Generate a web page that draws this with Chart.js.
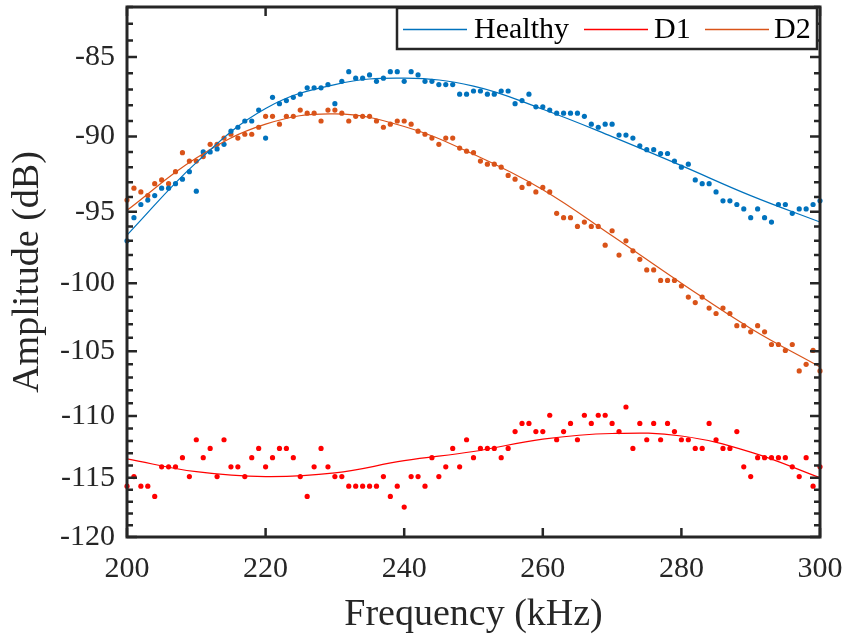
<!DOCTYPE html>
<html>
<head>
<meta charset="utf-8">
<script src="https://cdn.jsdelivr.net/npm/chart.js@4.4.0/dist/chart.umd.min.js"></script>
<style>
  html, body { margin: 0; padding: 0; background: #fff; }
  #wrap { width: 849px; height: 641px; }
</style>
</head>
<body>
<div id="wrap"><canvas id="ampChart" width="849" height="641"></canvas></div>
<script>
const freq = [200, 201, 202, 203, 204, 205, 206, 207, 208, 209,
  210, 211, 212, 213, 214, 215, 216, 217, 218, 219,
  220, 221, 222, 223, 224, 225, 226, 227, 228, 229,
  230, 231, 232, 233, 234, 235, 236, 237, 238, 239,
  240, 241, 242, 243, 244, 245, 246, 247, 248, 249,
  250, 251, 252, 253, 254, 255, 256, 257, 258, 259,
  260, 261, 262, 263, 264, 265, 266, 267, 268, 269,
  270, 271, 272, 273, 274, 275, 276, 277, 278, 279,
  280, 281, 282, 283, 284, 285, 286, 287, 288, 289,
  290, 291, 292, 293, 294, 295, 296, 297, 298, 299, 300];

// measured amplitudes (dB)
const healthy = [-97.0, -95.4, -94.5, -94.2, -93.9, -93.4, -93.4, -93.1, -92.8, -92.3,
  -93.6, -91.0, -91.0, -90.8, -90.5, -89.65, -89.4, -89.0, -89.0, -88.3,
  -90.1, -87.5, -87.9, -87.7, -87.5, -87.3, -86.9, -86.9, -86.9, -86.7,
  -87.9, -86.5, -85.9, -86.3, -86.3, -86.1, -86.5, -86.3, -85.9, -85.9,
  -86.5, -85.9, -86.1, -86.5, -86.5, -86.7, -86.7, -86.7, -87.3, -87.3,
  -87.1, -87.1, -87.3, -87.3, -87.1, -87.1, -87.9, -87.7, -87.3, -88.1,
  -88.1, -88.3, -88.5, -88.5, -88.5, -88.5, -88.7, -89.2, -89.4, -89.2,
  -89.2, -89.9, -89.9, -90.1, -90.6, -90.85, -90.85, -91.1, -91.1, -91.6,
  -92.0, -91.8, -92.85, -93.1, -93.1, -93.65, -94.25, -94.25, -94.5, -94.8,
  -95.4, -94.8, -95.4, -95.7, -94.5, -94.5, -95.1, -94.8, -94.8, -94.5, -94.25];

const d1 = [-115.7, -114.9, -115.7, -115.7, -116.55, -114.1, -114.1, -114.1, -113.35, -114.9,
  -111.9, -113.35, -112.6, -114.9, -111.9, -114.1, -114.1, -114.9, -113.35, -112.6,
  -114.1, -113.35, -112.6, -112.6, -113.35, -114.9, -116.55, -114.1, -112.6, -114.1,
  -114.9, -114.9, -115.7, -115.7, -115.7, -115.7, -115.7, -114.9, -116.55, -115.7,
  -117.45, -114.9, -114.9, -115.7, -113.35, -114.9, -114.1, -112.6, -114.1, -111.9,
  -113.35, -112.6, -112.6, -112.6, -113.35, -112.6, -111.25, -110.6, -110.6, -111.25,
  -111.25, -109.95, -111.9, -111.25, -110.6, -111.9, -109.95, -110.6, -109.95, -109.95,
  -110.6, -111.25, -109.3, -112.6, -110.6, -111.9, -110.6, -111.9, -110.6, -111.25,
  -111.9, -111.9, -112.6, -112.6, -110.6, -111.9, -112.6, -112.6, -111.25, -114.1,
  -114.9, -113.35, -113.35, -113.35, -113.35, -113.35, -114.1, -114.9, -113.35, -115.7, -114.1];

const d2 = [-94.2, -93.4, -93.65, -93.9, -93.1, -92.85, -93.1, -92.3, -91.05, -91.6,
  -91.6, -91.3, -90.5, -90.5, -90.1, -89.85, -90.1, -89.85, -89.85, -89.4,
  -88.7, -88.7, -89.2, -88.7, -88.7, -88.3, -88.5, -88.5, -89.0, -88.3,
  -88.3, -88.5, -89.0, -88.7, -88.7, -88.7, -89.0, -89.4, -89.2, -89.0,
  -89.0, -89.2, -89.65, -89.85, -90.1, -90.5, -90.1, -90.1, -90.75, -90.95,
  -91.05, -91.6, -91.8, -91.8, -92.0, -92.55, -92.8, -93.35, -93.1, -93.65,
  -93.35, -93.65, -95.1, -95.4, -95.4, -96.0, -95.7, -96.0, -96.0, -97.3,
  -96.3, -98.0, -97.0, -97.7, -98.3, -99.05, -99.05, -99.8, -99.8, -99.8,
  -100.2, -101.0, -101.4, -101.0, -101.8, -102.2, -101.8, -102.2, -103.1, -103.1,
  -103.55, -103.1, -103.55, -104.5, -104.5, -104.95, -104.5, -106.5, -106.0, -104.95, -106.5];

// fitted curves, read every 10 kHz
const fitFreq = [200, 210, 220, 230, 240, 250, 260, 270, 280, 290, 300];
const healthyFit = [-96.6, -91.7, -88.2, -86.7, -86.3, -86.8, -88.25, -90.0, -91.9, -93.9, -95.7];
const d1Fit = [-113.45, -114.5, -114.9, -114.6, -113.6, -112.85, -111.85, -111.4, -111.6, -112.9, -115.0];
const d2Fit = [-94.9, -91.4, -89.2, -88.55, -89.35, -91.15, -93.5, -96.65, -100.0, -103.3, -106.2];

const xTicks = [200, 220, 240, 260, 280, 300];
const yTicks = [-120, -115, -110, -105, -100, -95, -90, -85];
const yMinor = [-120, -119, -118, -117, -116, -115, -114, -113, -112, -111,
  -110, -109, -108, -107, -106, -105, -104, -103, -102, -101,
  -100, -99, -98, -97, -96, -95, -94, -93, -92, -91,
  -90, -89, -88, -87, -86, -85, -84, -83, -82];

const seriesNames = ['Healthy', 'D1', 'D2'];
const seriesColors = ['#0072BD', '#FF0000', '#D95319'];

const axisColor = '#262626';
const serif = 'Liberation Serif, Times New Roman, serif';

// log axis on the magnitude, values shown negative
function toPoints(xs, ys) {
    return xs.map((x, i) => ({ x: x, y: -ys[i] }));
}

function dotSet(label, ys, color) {
    return {
        label: label,
        data: toPoints(freq, ys),
        showLine: false,
        pointRadius: 2.6,
        pointHoverRadius: 2.6,
        pointBackgroundColor: color,
        pointBorderWidth: 0,
        borderColor: color,
        clip: false
    };
}

function fitSet(label, ys, color) {
    return {
        label: label,
        data: toPoints(fitFreq, ys),
        showLine: true,
        borderColor: color,
        borderWidth: 1.2,
        pointRadius: 0,
        tension: 0.4,
        fill: false
    };
}

const boxAxes = {
    id: 'boxAxes',
    afterDatasetsDraw(chart) {
        const { ctx, chartArea: a, scales: { x, y } } = chart;
        ctx.save();
        ctx.strokeStyle = axisColor;
        ctx.lineWidth = 2.5;
        ctx.beginPath();
        xTicks.forEach(t => {
            const px = x.getPixelForValue(t);
            ctx.moveTo(px, a.bottom); ctx.lineTo(px, a.bottom - 9);
            ctx.moveTo(px, a.top); ctx.lineTo(px, a.top + 9);
        });
        yMinor.forEach(t => {
            const py = y.getPixelForValue(-t);
            const len = (t % 5 === 0) ? 10 : 6;
            ctx.moveTo(a.left, py); ctx.lineTo(a.left + len, py);
            ctx.moveTo(a.right, py); ctx.lineTo(a.right - len, py);
        });
        ctx.stroke();
        ctx.lineWidth = 3;
        ctx.strokeRect(a.left, a.top, a.right - a.left, a.bottom - a.top);
        ctx.restore();
    }
};

const boxLegend = {
    id: 'boxLegend',
    afterDraw(chart) {
        const ctx = chart.ctx;
        const lines = [[403, 467], [584, 648], [705, 769]];
        const textX = [474, 654, 774];
        ctx.save();
        ctx.fillStyle = '#ffffff';
        ctx.fillRect(397, 8, 420, 41);
        ctx.strokeStyle = axisColor;
        ctx.lineWidth = 2.5;
        ctx.strokeRect(397, 8, 420, 41);
        ctx.font = '30px ' + serif;
        ctx.textBaseline = 'middle';
        ctx.textAlign = 'left';
        seriesNames.forEach((name, i) => {
            ctx.strokeStyle = seriesColors[i];
            ctx.lineWidth = 1.3;
            ctx.beginPath();
            ctx.moveTo(lines[i][0], 29.5);
            ctx.lineTo(lines[i][1], 29.5);
            ctx.stroke();
            ctx.fillStyle = '#000000';
            ctx.fillText(name, textX[i], 30);
        });
        ctx.restore();
    }
};

const ctx = document.getElementById('ampChart').getContext('2d');
const ampChart = new Chart(ctx, {
    type: 'scatter',
    data: {
        datasets: [
            fitSet('Healthy fit', healthyFit, seriesColors[0]),
            fitSet('D1 fit', d1Fit, seriesColors[1]),
            fitSet('D2 fit', d2Fit, seriesColors[2]),
            dotSet('Healthy', healthy, seriesColors[0]),
            dotSet('D1', d1, seriesColors[1]),
            dotSet('D2', d2, seriesColors[2])
        ]
    },
    options: {
        responsive: false,
        animation: false,
        layout: { padding: { top: 7, right: 29, left: 0, bottom: 0 } },
        plugins: {
            legend: { display: false },
            tooltip: { enabled: false }
        },
        scales: {
            x: {
                type: 'linear',
                min: 200,
                max: 300,
                afterBuildTicks: s => { s.ticks = xTicks.map(v => ({ value: v })); },
                afterFit: s => { s.height = 104; s.paddingLeft = 0; s.paddingRight = 0; },
                grid: { display: false, drawTicks: false },
                border: { display: false },
                ticks: {
                    font: { family: serif, size: 30 },
                    color: axisColor,
                    padding: 14,
                    maxRotation: 0
                },
                title: {
                    display: true,
                    text: 'Frequency (kHz)',
                    font: { family: serif, size: 38 },
                    color: axisColor,
                    padding: { top: 0, bottom: 3 }
                }
            },
            y: {
                type: 'logarithmic',
                reverse: true,
                min: 82,
                max: 120,
                afterBuildTicks: s => { s.ticks = yTicks.map(v => ({ value: -v })); },
                afterFit: s => { s.width = 127; s.paddingTop = 0; s.paddingBottom = 0; },
                grid: { display: false, drawTicks: false },
                border: { display: false },
                ticks: {
                    font: { family: serif, size: 30 },
                    color: axisColor,
                    padding: 12,
                    callback: v => '-' + v
                },
                title: {
                    display: true,
                    text: 'Amplitude (dB)',
                    font: { family: serif, size: 38 },
                    color: axisColor,
                    padding: { top: 5, bottom: 0 }
                }
            }
        }
    },
    plugins: [boxAxes, boxLegend]
});
</script>
</body>
</html>
